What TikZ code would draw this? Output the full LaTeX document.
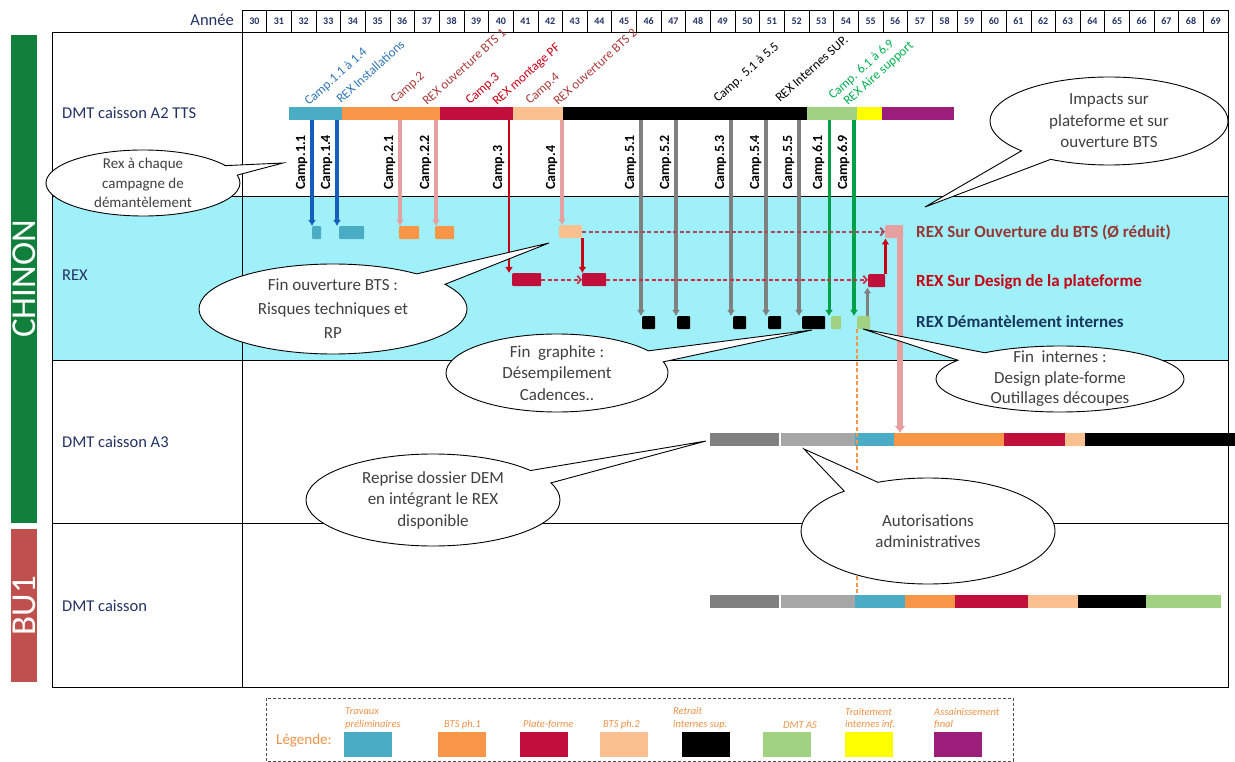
\documentclass[tikz,border=0pt]{standalone}
\usepackage{fontspec}
\setmainfont{Carlito}
\usetikzlibrary{arrows,arrows.meta,shapes,shapes.callouts,calc}

% couleurs du planning
\definecolor{trav}{RGB}{75,172,198}
\definecolor{btsa}{RGB}{247,150,70}
\definecolor{pf}{RGB}{192,15,58}
\definecolor{btsb}{RGB}{250,192,144}
\definecolor{dmtas}{RGB}{160,210,130}
\definecolor{jaune}{RGB}{255,255,0}
\definecolor{assain}{RGB}{155,31,122}
\definecolor{gris1}{RGB}{128,128,128}
\definecolor{gris2}{RGB}{166,166,166}
\definecolor{rexfond}{RGB}{160,240,250}
\definecolor{navy}{RGB}{35,50,100}
\definecolor{vertch}{RGB}{16,128,60}
\definecolor{rougebu}{RGB}{192,80,77}
\definecolor{bleucamp}{RGB}{46,117,182}
\definecolor{bleuarr}{RGB}{20,95,190}
\definecolor{rose}{RGB}{230,160,160}
\definecolor{brun}{RGB}{170,60,60}
\definecolor{rouge}{RGB}{200,0,20}
\definecolor{tiret}{RGB}{205,45,70}
\definecolor{tiretbts}{RGB}{165,75,95}
\definecolor{brunrex}{RGB}{150,55,53}
\definecolor{navyrex}{RGB}{23,55,94}
\definecolor{vertcamp}{RGB}{0,176,80}
\definecolor{vertarr}{RGB}{0,160,70}
\definecolor{orleg}{RGB}{240,145,70}

\tikzstyle{cell}=[draw,line width=0.6pt,minimum width=24.65pt,minimum height=22pt,inner sep=0pt,text=navy,font=\fontsize{10}{11}\selectfont\bfseries]
\tikzstyle{rowlabel}=[anchor=west,inner sep=0pt,text=navy,font=\fontsize{16.5}{18}\selectfont]
\tikzstyle{sidebar}=[rotate=90,text=white,inner sep=0pt,minimum height=26pt,font=\fontsize{35}{36}\selectfont]
\tikzstyle{toplabel}=[rotate=42,anchor=base west,inner sep=0pt,font=\fontsize{13}{15}\selectfont]
\tikzstyle{camplabel}=[rotate=90,anchor=base west,inner sep=0pt,font=\fontsize{14}{15}\selectfont\bfseries]
\tikzstyle{rexbox}=[anchor=north west,inner sep=0pt,minimum height=13pt,rounded corners=1pt]
\tikzstyle{campedge}=[draw,-{Latex[length=6pt,width=8pt]}]
\tikzstyle{dashedge}=[draw,line width=1.8pt,dash pattern=on 4pt off 2.5pt,-{Straight Barb[length=3.5pt,width=8pt]}]
\tikzstyle{rexlabel}=[anchor=west,inner sep=0pt,font=\fontsize{17}{18}\selectfont\bfseries]
\tikzstyle{bulle}=[ellipse callout,draw,line width=0.9pt,fill=white,text=black!75,align=center,inner sep=0pt,callout pointer arc=18,font=\fontsize{17}{21.5}\selectfont]
\tikzstyle{swatch}=[anchor=north west,inner sep=0pt,minimum width=48pt,minimum height=25pt]
\tikzstyle{leglabel}=[anchor=south west,align=left,inner sep=0pt,text=orleg,font=\fontsize{10.5}{12.5}\selectfont\itshape]

\begin{document}
\begin{tikzpicture}[x=1pt,y=-1pt]
\useasboundingbox (0,0) rectangle (1235,762);

% fond REX et tableau
\fill[rexfond] (52,196) rectangle (1228,360);
\draw[line width=0.8pt] (52,32) rectangle (1228,687);
\draw[line width=0.8pt] (242,32) -- (242,687);
\foreach \yy in {196,360,523}
    \draw[line width=0.8pt] (52,\yy) -- (1228,\yy);

% sites
\node[sidebar,fill=vertch,minimum width=488pt] (chinon) at (24,279) {CHINON};
\node[sidebar,fill=rougebu,minimum width=153pt] (bu) at (24,605.5) {BU1};

% annees
\node[anchor=east,inner sep=0pt,text=navy,font=\fontsize{16.5}{18}\selectfont] (annee) at (234,20) {Année};
\foreach \an in {30,...,69}
    \node[cell] (a\an) at ({242+(\an-30)*24.65+12.33},21) {\an};

% lignes du tableau
\foreach \pos/\name/\txt in {{(62,113)/la2/DMT caisson A2 TTS},{(62,275)/lrex/REX},{(62,442)/la3/DMT caisson A3},{(62,606)/lbu/DMT caisson}}
    \node[rowlabel] (\name) at \pos {\txt};

% orange: fin des internes
\coordinate (bufin) at (857,595);

% barres de planning
\foreach \xa/\xb/\col in {289/342/trav,342/440/btsa,440/513/pf,513/563/btsb,563/807/black,807/857/dmtas,857/882/jaune,882/954/assain}
    \fill[\col] (\xa,107) rectangle (\xb,120);
\foreach \xa/\xb/\col in {710/779/gris1,781/855/gris2,855/894/trav,894/1004/btsa,1004/1065/pf,1065/1085/btsb,1085/1235/black}
    \fill[\col] (\xa,433) rectangle (\xb,446);
\foreach \xa/\xb/\col in {710/779/gris1,781/855/gris2,855/905/trav,905/955/btsa,955/1028/pf,1028/1078/btsb,1078/1146/black,1146/1221/dmtas}
    \fill[\col] (\xa,595) rectangle (\xb,608);

% campagnes au dessus de la barre
\foreach \pos/\name/\col/\txt in {{(309,106)/l1a/bleucamp/Camp.1.1 à 1.4},{(341,104)/l1b/bleucamp/REX Installations},
    {(395,104)/l2a/brun/Camp.2},{(427,106)/l2b/brun/REX ouverture BTS 1},
    {(470,105)/l3a/rouge/Camp.3},{(497,106)/l3b/rouge/REX montage PF},
    {(530,105)/l4a/brun/Camp.4},{(558,106)/l4b/brun/REX ouverture BTS 2},
    {(718,103)/l5a/black/Camp. 5.1 à 5.5},{(780,103)/l5b/black/REX Internes SUP.},
    {(833,100)/l6a/vertcamp/Camp. 6.1 à 6.9},{(848,106)/l6b/vertcamp/REX Aire support}}
    \node[toplabel,text=\col] (\name) at \pos {\txt};

% blocs REX
\foreach \name/\xa/\ya/\w/\col in {b11/312/226/9/trav,b14/339/226/25/trav,b21/399/226/20/btsa,b22/435/226/19/btsa,
    b4/559/225/23/btsb,bbts/885/225/18/rose,b3/512/273/29/pf,b5/582/273/24/pf,bpf/868/274/17/pf,
    b51/642/316/13/black,b52/677/316/13/black,b53/733/316/13/black,b54/768/316/13/black,b55/802/316/23/black,
    b61/831/316/10/dmtas,b69/857/316/13/dmtas}
    \node[rexbox,fill=\col,minimum width=\w pt] (\name) at (\xa,\ya) {};

% fin internes jusqu'au BU1
\draw[btsa,line width=1.3pt,dash pattern=on 4pt off 2.5pt] (b69.south west) -- (b69.south west |- bufin);

% fleches des campagnes
\foreach \nom/\xx/\col/\lw/\txt in {11/312/bleuarr/3.5/1.1,14/337/bleuarr/3.5/1.4,21/400/rose/3.5/2.1,22/436/rose/3.5/2.2,
    3/509/rouge/2.5/3,4/562/rose/3.5/4,51/641/gris1/4/5.1,52/676/gris1/4/5.2,53/731/gris1/4/5.3,
    54/766/gris1/4/5.4,55/799/gris1/4/5.5,61/829/vertarr/3/6.1,69/854/vertarr/3.5/6.9}
{
    \coordinate (c\nom) at (\xx,120);
    \path[campedge,\col,line width=\lw pt] (c\nom) -- (c\nom |- b\nom.north);
    \node[camplabel] (t\nom) at (\xx-7,190) {Camp.\txt};
}

% liens entre blocs REX
\path[dashedge,tiret] (b3) -- (b5);
\path[dashedge,tiret] (b5) -- (b5 -| bpf.west);
\path[dashedge,tiretbts] (b4) -- (bbts);
\path[campedge,rouge,line width=2.5pt] (b4.south east) -- (b4.south east |- b5.north);
\path[campedge,rouge,line width=2.5pt] (bpf.north east) -- (bpf.north east |- bbts.south);
\coordinate (g69) at ($(b69.north east)+(-3,0)$);
\path[campedge,gris1,line width=3pt] (g69) -- (g69 |- bpf.south);
\coordinate (a3rose) at (900,433);
\path[draw,rose,line width=6pt,-{Latex[length=7pt,width=11pt]}] (bbts.south -| a3rose) -- (a3rose);

% types de REX
\node[rexlabel,text=brunrex] (rexbts) at (916,232) {REX Sur Ouverture du BTS (Ø réduit)};
\node[rexlabel,text=rouge] (rexpf) at (916,282) {REX Sur Design de la plateforme};
\node[rexlabel,text=navyrex] (rexdem) at (916,322) {REX Démantèlement internes};

% bulles
\node[bulle,minimum width=194pt,minimum height=66pt,inner ysep=-4pt,font=\fontsize{15}{19.5}\selectfont,callout absolute pointer={(283,163)}] (rexchaque) at (143,183) {Rex à chaque\\campagne de\\démantèlement};
\node[bulle,minimum width=268pt,minimum height=90pt,font=\fontsize{17}{24}\selectfont,callout absolute pointer={(549,243)}] (finbts) at (333,309) {Fin ouverture BTS :\\Risques techniques et\\RP};
\node[bulle,minimum width=222pt,minimum height=78pt,inner ysep=-3pt,callout absolute pointer={(812,330)}] (fingraph) at (557,373) {Fin~ graphite :\\Désempilement\\Cadences..};
\node[bulle,minimum width=254pt,minimum height=92pt,callout absolute pointer={(706,441)}] (reprise) at (433,500) {Reprise dossier DEM\\en intégrant le REX\\disponible};
\node[bulle,minimum width=254pt,minimum height=106pt,callout absolute pointer={(804,449)}] (autoris) at (928,531) {Autorisations\\administratives};
\node[bulle,minimum width=248pt,minimum height=66pt,inner ysep=-7pt,font=\fontsize{17}{20.5}\selectfont,callout absolute pointer={(863,329)}] (fininter) at (1060,379) {Fin~ internes :\\Design plate-forme\\Outillages découpes};
\node[bulle,minimum width=238pt,minimum height=88pt,callout absolute pointer={(925,207)}] (impacts) at (1109,121) {Impacts sur\\plateforme et sur\\ouverture BTS};

% legende
\draw[dash pattern=on 3pt off 2pt,line width=1pt,black!70] (266,698) rectangle (1013,761);
\node[anchor=west,inner sep=0pt,text=orleg,font=\fontsize{15}{16}\selectfont] (leg) at (276,741) {Légende:};
\foreach \name/\xx/\col/\lx/\txt in {s1/344/trav/345/{Travaux\\préliminaires},s2/438/btsa/444/{BTS ph.1},s3/520/pf/523/{Plate-forme},
    s4/600/btsb/603/{BTS ph.2},s5/682/black/673/{Retrait\\internes sup.},s6/763/dmtas/783/{DMT AS},
    s7/845/jaune/845/{Traitement\\internes inf.},s8/934/assain/934/{Assainissement\\final}}
{
    \node[swatch,fill=\col] (\name) at (\xx,732) {};
    \node[leglabel] (t\name) at (\lx,729) {\txt};
}
\end{tikzpicture}
\end{document}
